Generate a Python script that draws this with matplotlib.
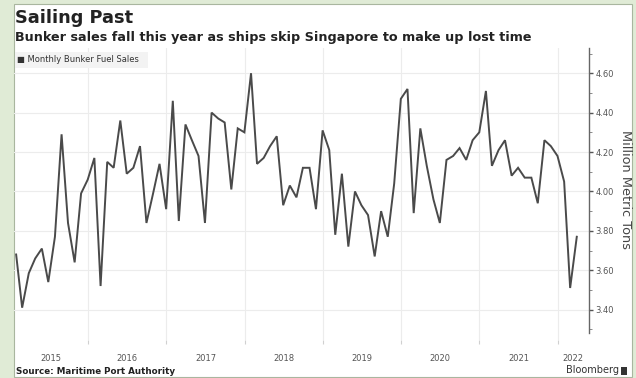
import pandas as pd
import matplotlib
matplotlib.use("Agg")
import matplotlib.pyplot as plt
from matplotlib.patches import Rectangle
from matplotlib.ticker import MultipleLocator, FormatStrFormatter

# monthly bunker fuel sales, million metric tons (Jan 2015 - Mar 2022)
months = pd.date_range("2015-01-31", periods=87, freq="ME")
sales = [3.68, 3.41, 3.585, 3.66, 3.71, 3.54, 3.77, 4.29, 3.84, 3.64, 3.99, 4.06,
         4.17, 3.52, 4.15, 4.12, 4.36, 4.09, 4.12, 4.23, 3.84, 3.99, 4.14, 3.91,
         4.46, 3.85, 4.34, 4.26, 4.18, 3.84, 4.40, 4.37, 4.35, 4.01, 4.32, 4.30,
         4.60, 4.14, 4.17, 4.23, 4.28, 3.93, 4.03, 3.97, 4.12, 4.12, 3.91, 4.31,
         4.21, 3.78, 4.09, 3.72, 4.00, 3.93, 3.88, 3.67, 3.90, 3.77, 4.04, 4.47,
         4.52, 3.89, 4.32, 4.13, 3.96, 3.84, 4.16, 4.18, 4.22, 4.16, 4.26, 4.30,
         4.51, 4.13, 4.21, 4.26, 4.08, 4.12, 4.07, 4.07, 3.94, 4.26, 4.23, 4.18,
         4.05, 3.51, 3.77]
years = [2015, 2016, 2017, 2018, 2019, 2020, 2021, 2022]
yticks = [3.40, 3.60, 3.80, 4.00, 4.20, 4.40, 4.60]

W, H = 636, 378
def fx(px): return px / W
def fy(py): return 1 - py / H

fig = plt.figure(figsize=(W / 100, H / 100), dpi=100, facecolor="#e0ebd6")
# white panel behind everything
fig.patches.append(Rectangle((fx(14), fy(377)), fx(632) - fx(14), fy(4) - fy(377),
                             transform=fig.transFigure, facecolor="white",
                             edgecolor="#a9b69f", lw=0.8, zorder=-5))

ax = fig.add_axes([fx(14), fy(340), fx(589) - fx(14), fy(48) - fy(340)])
ax.set_facecolor("none")
ax.plot(months, sales, color="#4a4a4a", lw=1.4, solid_joinstyle="miter", zorder=3)

x0 = pd.Timestamp("2015-01-21")
x1 = pd.Timestamp("2022-05-27")
ax.set_xlim(x0, x1)
ax.set_ylim(3.246, 4.728)

# x axis: gridlines at year starts, labels centred in visible part of each year
starts = [pd.Timestamp(f"{y}-01-01") for y in years[1:]]
centers = []
for y in years:
    a = max(pd.Timestamp(f"{y}-01-01"), x0)
    b = min(pd.Timestamp(f"{y + 1}-01-01"), x1)
    centers.append(a + (b - a) / 2)
ax.set_xticks(starts)
ax.set_xticklabels([])
ax.set_xticks(centers, minor=True)
ax.set_xticklabels([str(y) for y in years], minor=True)
ax.tick_params(axis="x", which="major", length=3, color="#d0d0d0")
ax.tick_params(axis="x", which="minor", length=0, labelsize=6,
               labelcolor="#555555", pad=10)
ax.grid(axis="x", which="major", color="#ececec", lw=0.8)

# y axis on the right
ax.yaxis.tick_right()
ax.set_yticks(yticks)
ax.yaxis.set_major_formatter(FormatStrFormatter("%.2f"))
ax.yaxis.set_minor_locator(MultipleLocator(0.1))
ax.tick_params(axis="y", which="major", length=3, width=1, color="#555555",
               labelsize=6, labelcolor="#555555", pad=1.5)
ax.tick_params(axis="y", which="minor", length=2, width=0.6, color="#777777")
ax.grid(axis="y", which="major", color="#ececec", lw=0.8)
for s in ["left", "top", "bottom"]:
    ax.spines[s].set_visible(False)
ax.spines["right"].set_color("#666666")
ax.spines["right"].set_linewidth(1.0)
ax.spines["right"].set_bounds(3.28, 4.728)
ax.set_axisbelow(True)

fig.text(fx(626), fy(190), "Million Metric Tons", rotation=270, fontsize=9.3,
         color="#444444", ha="center", va="center")

# titles
fig.text(fx(15), fy(18), "Sailing Past", fontsize=12.8, fontweight="bold",
         color="#222222", va="center")
fig.text(fx(15), fy(37), "Bunker sales fall this year as ships skip Singapore to make up lost time",
         fontsize=9.2, fontweight="bold", color="#222222", va="center")

# legend box
fig.patches.append(Rectangle((fx(15), fy(68)), fx(148) - fx(15), fy(52) - fy(68),
                             transform=fig.transFigure, facecolor="#f3f3f3",
                             edgecolor="none", zorder=1))
fig.text(fx(17), fy(60), "\u25a0 Monthly Bunker Fuel Sales", fontsize=6,
         color="#333333", va="center")

# footer
fig.text(fx(16), fy(371), "Source: Maritime Port Authority", fontsize=6.3,
         fontweight="bold", color="#222222", va="center")
fig.text(fx(619), fy(370), "Bloomberg", fontsize=7, color="#333333",
         va="center", ha="right")
fig.patches.append(Rectangle((fx(621), fy(375)), fx(6), fx(8) * W / H,
                             transform=fig.transFigure, facecolor="#333333",
                             edgecolor="none"))

fig.savefig("out.png", dpi=100, facecolor=fig.get_facecolor())
